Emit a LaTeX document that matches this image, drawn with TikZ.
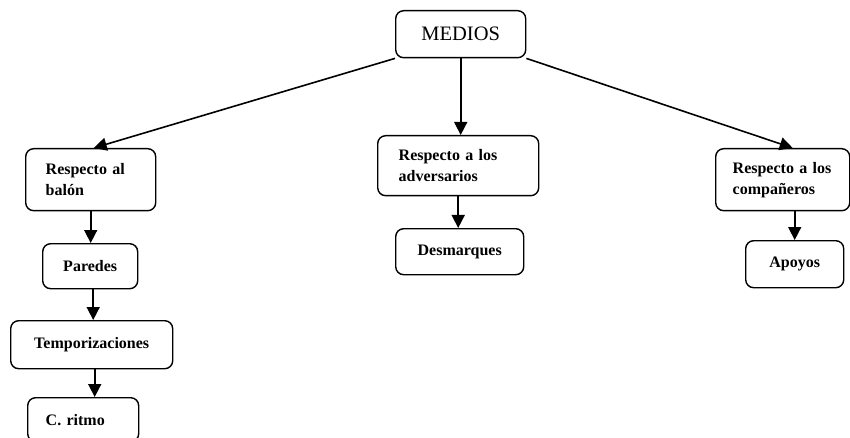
\documentclass[tikz,border=0pt]{standalone}
\usepackage{fontspec}
\setmainfont{Liberation Serif}
\usetikzlibrary{arrows.meta}
\begin{document}
\begin{tikzpicture}[x=1pt,y=-1pt,
  box/.style={draw, line width=1.4pt, rounded corners=8pt, anchor=north west, font=\bfseries\fontsize{16}{21}\selectfont, inner ysep=0pt},
  conn/.style={line width=1.6pt, -{Triangle[length=13pt,width=13pt]}}]
\useasboundingbox (0,0) rectangle (850,438);
\node[box, minimum width=130pt, minimum height=47pt, font=\fontsize{20.5}{24}\selectfont] (medios) at (395,10) {MEDIOS};
\node[box, text width=90pt, inner xsep=20pt, minimum height=62pt, align=left] (balon) at (25,148) {Respecto al\\bal\'on};
\node[box, minimum width=95pt, minimum height=45pt] (paredes) at (42,243) {Paredes};
\node[box, minimum width=162pt, minimum height=48pt] (temp) at (10,320) {Temporizaciones};
\node[box, text width=87pt, inner xsep=12pt, minimum height=44pt, align=left] (ritmo) at (27,397) {\hspace{6pt}C. ritmo};
\node[box, text width=119pt, inner xsep=21pt, minimum height=60pt, align=left] (adv) at (377,135) {Respecto a los\\adversarios};
\node[box, minimum width=128pt, minimum height=46pt] (desm) at (395,228) {Desmarques};
\node[box, text width=100pt, inner xsep=17pt, minimum height=62pt, align=left] (comp) at (715,148) {Respecto a los\\compañeros};
\node[box, minimum width=98pt, minimum height=47pt] (apoyos) at (745,240) {Apoyos};
\draw[conn] (medios.south west) -- ([xshift=3pt]balon.north);
\draw[conn] (medios.south) -- (medios.south |- adv.north);
\draw[conn] (medios.south east) -- ([xshift=10pt]comp.north);
\draw[conn] (balon.south) -- (balon.south |- paredes.north);
\draw[conn] ([xshift=3pt]paredes.south) -- ([xshift=3pt]paredes.south |- temp.north);
\draw[conn] ([xshift=3pt]temp.south) -- ([xshift=3pt]temp.south |- ritmo.north);
\draw[conn] (adv.south) -- (adv.south |- desm.north);
\draw[conn] (apoyos.north |- comp.south) -- (apoyos.north);
\end{tikzpicture}
\end{document}
